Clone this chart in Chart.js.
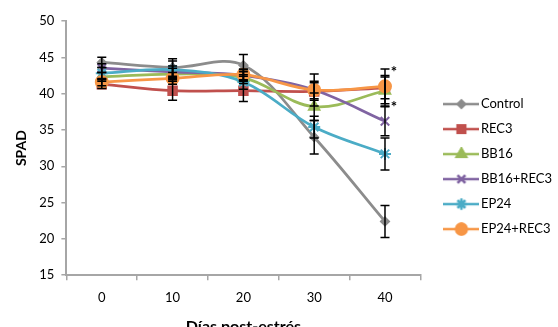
<!DOCTYPE html>
<html>
<head>
<meta charset="utf-8">
<script src="https://cdn.jsdelivr.net/npm/chart.js@4.4.1/dist/chart.umd.min.js"></script>
<style>
  html, body { margin: 0; padding: 0; background: #fff; overflow: hidden; }
  #wrap { width: 558px; height: 336px; }
</style>
</head>
<body>
<div id="wrap"><canvas id="spadChart"></canvas></div>
<script>
// Días post-estrés
const dias = ['0', '10', '20', '30', '40'];

// SPAD promedio por tratamiento
const control   = [44.3, 43.6, 43.9, 34.0, 22.4];
const rec3      = [41.3, 40.4, 40.4, 40.3, 40.8];
const bb16      = [42.3, 42.7, 42.2, 38.2, 40.4];
const bb16rec3  = [43.5, 43.0, 42.5, 40.5, 36.2];
const ep24      = [42.8, 43.3, 41.6, 35.4, 31.7];
const ep24rec3  = [41.6, 42.1, 42.6, 40.5, 41.0];

// Error estándar
const errControl  = [0.7, 1.2, 1.5, 2.3, 2.2];
const errRec3     = [0.6, 1.3, 1.5, 1.2, 1.5];
const errBb16     = [0.6, 0.8, 0.8, 1.9, 2.1];
const errBb16rec3 = [0.6, 0.8, 0.8, 1.2, 2.0];
const errEp24     = [0.8, 1.2, 1.0, 1.5, 2.2];
const errEp24rec3 = [0.5, 0.8, 0.8, 2.2, 2.4];

// asteriscos de significancia en el día 40
const asteriscos = [43.4, 38.6];

const FONT = 'Lato, "Liberation Sans", sans-serif';

const series = [
  { label: 'Control',    data: control,  err: errControl,  color: '#8c8c8c', style: 'rectRot',  radius: 4 },
  { label: 'REC3',       data: rec3,     err: errRec3,     color: '#c0504d', style: 'rect',     radius: 6 },
  { label: 'BB16',       data: bb16,     err: errBb16,     color: '#9bbb59', style: 'triangle', radius: 6 },
  { label: 'BB16+REC3',  data: bb16rec3, err: errBb16rec3, color: '#8064a2', style: 'crossRot', radius: 6 },
  { label: 'EP24',       data: ep24,     err: errEp24,     color: '#4bacc6', style: 'star',     radius: 6 },
  { label: 'EP24+REC3',  data: ep24rec3, err: errEp24rec3, color: '#f79646', style: 'circle',   radius: 6 }
];

// iconos de leyenda: línea + marcador, como en Excel
function makeIcon(s) {
  const c = document.createElement('canvas');
  c.width = 36; c.height = 14;
  const ctx = c.getContext('2d');
  ctx.strokeStyle = s.color;
  ctx.lineWidth = 2.5;
  ctx.beginPath(); ctx.moveTo(0, 7); ctx.lineTo(36, 7); ctx.stroke();
  Chart.helpers.drawPoint(ctx, {
    pointStyle: s.style, radius: s.radius * 0.9, rotation: 0, borderWidth: 2
  }, 18, 7);
  ctx.fillStyle = s.color;
  ctx.lineWidth = 2;
  ctx.fill();
  ctx.stroke();
  return c;
}

const errorBars = {
  id: 'errorBars',
  afterDatasetsDraw(chart) {
    const { ctx } = chart;
    const y = chart.scales.y;
    ctx.save();
    ctx.strokeStyle = '#000';
    ctx.lineWidth = 1.5;
    series.forEach((s, i) => {
      const meta = chart.getDatasetMeta(i);
      meta.data.forEach((pt, j) => {
        const top = y.getPixelForValue(s.data[j] + s.err[j]);
        const bot = y.getPixelForValue(s.data[j] - s.err[j]);
        ctx.beginPath();
        ctx.moveTo(pt.x, top); ctx.lineTo(pt.x, bot);
        ctx.moveTo(pt.x - 4.5, top); ctx.lineTo(pt.x + 4.5, top);
        ctx.moveTo(pt.x - 4.5, bot); ctx.lineTo(pt.x + 4.5, bot);
        ctx.stroke();
      });
    });
    ctx.restore();
  }
};

const stars = {
  id: 'stars',
  afterDraw(chart) {
    const { ctx } = chart;
    const x = chart.scales.x.getPixelForValue(4) + 9;
    ctx.save();
    ctx.fillStyle = '#000';
    ctx.font = 'bold 15px ' + FONT;
    ctx.textAlign = 'center';
    ctx.textBaseline = 'middle';
    asteriscos.forEach(v => ctx.fillText('*', x, chart.scales.y.getPixelForValue(v) + 3));
    ctx.restore();
  }
};

const icons = series.map(makeIcon);

new Chart(document.getElementById('spadChart'), {
  type: 'line',
  data: {
    labels: dias,
    datasets: series.map((s, i) => ({
      label: s.label,
      data: s.data,
      borderColor: s.color,
      backgroundColor: s.color,
      borderWidth: 2.75,
      pointStyle: s.style,
      pointRadius: s.radius,
      pointBorderWidth: 2,
      pointBorderColor: s.color,
      pointBackgroundColor: s.color,
      tension: 0.35,
      order: series.length - i
    }))
  },
  options: {
    responsive: true,
    maintainAspectRatio: false,
    animation: false,
    layout: { padding: { left: 9.5, top: 21, right: -4, bottom: 0 } },
    plugins: {
      legend: {
        position: 'right',
        align: 'start',
        maxWidth: 160,
        title: { display: true, text: '', font: { family: FONT, size: 13 }, padding: { top: 0, bottom: 49 } },
        labels: {
          font: { family: FONT, size: 13 },
          color: '#000',
          usePointStyle: true,
          pointStyleWidth: 26,
          padding: 12,
          generateLabels: () => series.map((s, i) => ({
            text: s.label,
            pointStyle: icons[i],
            datasetIndex: i,
            hidden: false,
            lineWidth: 0,
            strokeStyle: 'transparent',
            fillStyle: 'transparent',
            fontColor: '#000'
          }))
        }
      },
      tooltip: { enabled: false }
    },
    scales: {
      x: {
        offset: true,
        title: { display: true, text: 'Días post-estrés', color: '#000', font: { family: FONT, size: 16, weight: 'bold' }, padding: { top: 1, bottom: 0 } },
        ticks: { color: '#000', font: { family: FONT, size: 13 }, padding: 10 },
        grid: { drawOnChartArea: false, drawTicks: true, tickLength: 5, color: '#a6a6a6', lineWidth: 1.5, offset: true },
        border: { color: '#a6a6a6', width: 2 }
      },
      y: {
        min: 15,
        max: 50,
        title: { display: true, text: 'SPAD', color: '#000', font: { family: FONT, size: 14, weight: 'bold' }, padding: { bottom: 2 } },
        ticks: { stepSize: 5, color: '#000', font: { family: FONT, size: 13 }, padding: 7 },
        grid: { drawOnChartArea: false, drawTicks: true, tickLength: 5, color: '#a6a6a6', lineWidth: 1.5 },
        border: { color: '#a6a6a6', width: 2 }
      },
      gap: {
        position: 'right',
        display: true,
        ticks: { display: false },
        grid: { display: false },
        border: { display: false },
        afterFit: (s) => { s.width = 16; }
      }
    }
  },
  plugins: [errorBars, stars]
});
</script>
</body>
</html>
